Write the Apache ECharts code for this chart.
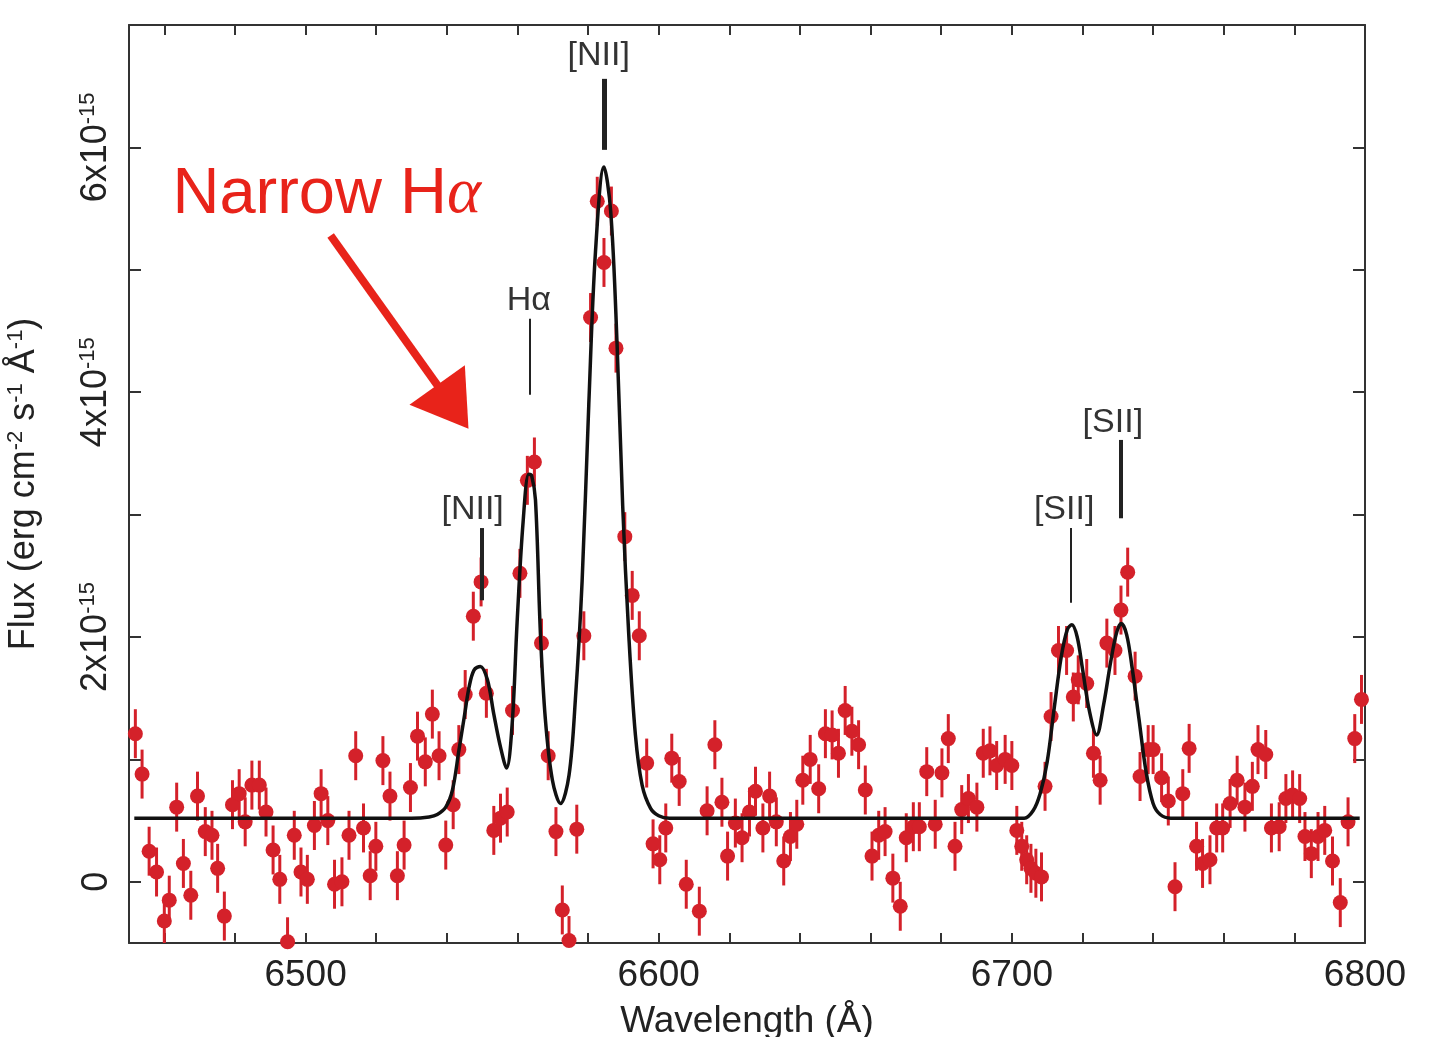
<!DOCTYPE html>
<html><head><meta charset="utf-8">
<script src="https://cdn.jsdelivr.net/npm/echarts@6/dist/echarts.min.js"></script>
<style>html,body{margin:0;padding:0;background:#fff}#c{width:1435px;height:1037px}</style>
</head><body><div id="c"></div>
<script>
// ---- data (flux in units of 1e-15 erg cm^-2 s^-1 A^-1) ----
const wavelength = [6451.8,6453.7,6455.7,6457.8,6460.0,6461.4,6463.5,6465.4,6467.5,6469.4,6471.6,6473.5,6475.1,6477.0,6479.3,6481.2,6482.9,6484.8,6486.9,6488.8,6490.8,6492.7,6494.9,6496.8,6498.7,6500.5,6502.5,6504.4,6506.3,6508.2,6510.3,6512.3,6514.2,6516.4,6518.3,6519.9,6521.9,6523.9,6526.0,6527.9,6529.7,6531.7,6533.9,6535.9,6537.8,6539.7,6541.8,6543.4,6545.2,6547.5,6549.7,6551.2,6553.3,6555.2,6557.1,6558.6,6560.7,6562.8,6564.8,6566.8,6568.7,6570.9,6572.7,6574.6,6576.8,6578.8,6580.7,6582.6,6584.5,6586.6,6587.9,6590.4,6592.5,6594.5,6596.6,6598.4,6600.3,6602.0,6603.7,6605.8,6607.8,6611.5,6613.7,6615.9,6617.9,6619.5,6621.7,6623.6,6625.7,6627.4,6629.5,6631.4,6633.3,6635.4,6637.3,6639.1,6640.8,6642.9,6645.3,6647.2,6649.1,6650.9,6652.8,6654.7,6656.6,6658.5,6660.4,6662.3,6664.1,6666.3,6668.4,6670.1,6672.1,6673.8,6675.9,6678.3,6680.2,6682.0,6683.9,6685.8,6687.7,6690.1,6691.9,6693.8,6695.7,6698.1,6700.0,6701.4,6702.8,6704.2,6705.4,6706.8,6708.4,6709.4,6711.1,6713.2,6715.5,6717.4,6718.8,6721.2,6723.1,6725.0,6726.9,6729.2,6730.9,6732.8,6734.9,6736.3,6738.6,6740.0,6742.4,6744.3,6746.2,6748.4,6750.2,6752.3,6754.0,6756.1,6758.0,6759.7,6761.8,6763.8,6766.0,6768.1,6769.7,6771.9,6773.5,6775.7,6777.6,6779.5,6781.5,6783.0,6784.8,6786.7,6788.6,6790.8,6793.0,6795.2,6797.1,6799.0];
const fluxE15 = [1.21,0.88,0.25,0.08,-0.32,-0.15,0.61,0.15,-0.11,0.70,0.41,0.38,0.11,-0.28,0.63,0.72,0.49,0.79,0.79,0.57,0.26,0.02,-0.49,0.38,0.08,0.02,0.46,0.72,0.50,-0.02,0.00,0.38,1.03,0.44,0.05,0.29,0.99,0.70,0.05,0.30,0.77,1.19,0.98,1.37,1.03,0.30,0.63,1.08,1.53,2.17,2.45,1.54,0.42,0.52,0.57,1.40,2.52,3.28,3.43,1.95,1.03,0.41,-0.23,-0.48,0.43,2.01,4.61,5.56,5.06,5.48,4.36,2.82,2.34,2.01,0.97,0.31,0.18,0.44,1.01,0.82,-0.02,-0.24,0.58,1.12,0.65,0.21,0.48,0.36,0.57,0.74,0.44,0.70,0.49,0.17,0.37,0.47,0.83,1.00,0.76,1.21,1.20,1.05,1.40,1.23,1.12,0.75,0.21,0.38,0.41,0.03,-0.20,0.36,0.45,0.45,0.90,0.47,0.89,1.17,0.29,0.59,0.68,0.61,1.05,1.07,0.95,1.00,0.95,0.42,0.29,0.18,0.11,0.07,0.04,0.78,1.35,1.89,1.89,1.51,1.65,1.62,1.05,0.83,1.95,1.89,2.22,2.53,1.68,0.86,1.08,1.08,0.85,0.66,-0.04,0.72,1.09,0.29,0.15,0.18,0.44,0.44,0.64,0.83,0.61,0.78,1.08,1.04,0.44,0.45,0.68,0.71,0.68,0.37,0.23,0.37,0.42,0.17,-0.17,0.49,1.17,1.49];
const fluxErrE15 = 0.2;
const modelWavelength = [6451.5,6530,6535,6537.3,6539.7,6541.6,6543.4,6544.9,6546.3,6547.7,6549.5,6551.5,6553.3,6555.2,6556.9,6558.5,6559.9,6561.6,6563.2,6564.0,6565.1,6566.5,6567.9,6569.9,6572.2,6574.6,6576.4,6578.3,6580.2,6582.1,6584.5,6586.4,6588.2,6589.8,6591.5,6593.4,6595.3,6597.7,6600.0,6603,6703.5,6706,6708,6710,6712,6714,6715.7,6717,6718.5,6720,6722,6724,6726,6728,6729.7,6731,6732.5,6734,6736,6738,6740,6742,6745,6798.5];
const modelFluxE15 = [0.52,0.52,0.53,0.55,0.61,0.75,1.07,1.34,1.59,1.73,1.76,1.65,1.37,1.10,0.93,1.29,2.12,2.94,3.33,3.32,3.12,2.03,1.33,0.83,0.64,0.87,1.49,2.45,3.90,5.15,5.84,5.48,4.40,3.07,2.03,1.20,0.79,0.60,0.54,0.52,0.52,0.58,0.72,0.98,1.42,1.84,2.06,2.10,2.00,1.74,1.39,1.20,1.45,1.80,2.04,2.11,2.02,1.76,1.33,0.90,0.64,0.55,0.52,0.52];
const xTickValues = [6460,6480,6500,6520,6540,6560,6580,6600,6620,6640,6660,6680,6700,6720,6740,6760,6780,6800];
const xLabelValues = [6500,6600,6700,6800];
const yTickValues = [0,1,2,3,4,5,6];
const yLabelValues = [0,2,4,6];
const lineIdNames = ['[NII]','Hα','[NII]','[SII]','[SII]'];
const lineIdWave = [6549.9,6563.4,6584.7,6716.8,6730.9];
const annotationText = 'Narrow H{a|α}';

// ---- layout / style ----
const RED = '#d4212a';
const FONT = '"Liberation Sans", Arial, Helvetica, sans-serif';
const lineIdLayout = [ // [tickBottom, tickTop, textY, textX, width]
  [2.30,2.89,3.04,6547.3,4],
  [3.98,4.60,4.75,6563.2,2],
  [5.98,6.56,6.75,6583.0,5],
  [2.28,2.89,3.04,6714.8,2],
  [2.97,3.61,3.75,6728.6,4]
];

const points = wavelength.map((w,i)=>[w, fluxE15[i]]);
const model = modelWavelength.map((w,i)=>[w, modelFluxE15[i]]);

const supRich = {s:{fontSize:22, verticalAlign:'top', fontFamily:FONT, color:'#222', padding:[0,0,16,0]}};

const chart = echarts.init(document.getElementById('c'), null, {renderer:'canvas'});
const axisLineStyle = {color:'#333', width:2};
const option = {
  animation:false,
  backgroundColor:'#fff',
  textStyle:{fontFamily:FONT},
  grid:{left:129, right:70, top:25, bottom:94, outerBoundsMode:'none'},
  xAxis:[{
    type:'value', min:6450, max:6800, position:'bottom',
    axisLine:{show:true, onZero:false, lineStyle:axisLineStyle},
    axisTick:{show:true, inside:true, length:10, lineStyle:{color:'#333', width:2}, customValues:xTickValues},
    axisLabel:{show:true, customValues:xLabelValues, fontSize:37, color:'#222', margin:14, fontFamily:FONT,
      formatter:v => String(v)},
    splitLine:{show:false},
    name:'Wavelength (Å)', nameLocation:'middle', nameGap:60,
    nameTextStyle:{fontSize:37, color:'#222', fontFamily:FONT}
  },{
    type:'value', min:6450, max:6800, position:'top',
    axisLine:{show:true, onZero:false, lineStyle:axisLineStyle},
    axisTick:{show:true, inside:true, length:10, lineStyle:{color:'#333', width:2}, customValues:xTickValues},
    axisLabel:{show:false}, splitLine:{show:false}
  }],
  yAxis:[{
    type:'value', min:-0.5, max:7, position:'left',
    axisLine:{show:true, onZero:false, lineStyle:axisLineStyle},
    axisTick:{show:true, inside:true, length:12, lineStyle:{color:'#333', width:2}, customValues:yTickValues},
    axisLabel:{show:true, customValues:yLabelValues, rotate:90, fontSize:36, color:'#222', margin:14,
      fontFamily:FONT, rich:supRich,
      formatter:v => v===0 ? '0' : (v + 'x10{s|-15}')},
    splitLine:{show:false},
    name:'Flux (erg cm{s|-2} s{s|-1} Å{s|-1})', nameLocation:'middle', nameGap:86, nameRotate:90,
    nameTextStyle:{fontSize:36, color:'#222', fontFamily:FONT, rich:supRich}
  },{
    type:'value', min:-0.5, max:7, position:'right',
    axisLine:{show:true, onZero:false, lineStyle:axisLineStyle},
    axisTick:{show:true, inside:true, length:12, lineStyle:{color:'#333', width:2}, customValues:yTickValues},
    axisLabel:{show:false}, splitLine:{show:false}
  }],
  series:[
    {
      type:'custom', name:'err', xAxisIndex:0, yAxisIndex:0, clip:true, silent:true,
      data:points,
      renderItem:(params, api) => {
        const x = api.value(0), y = api.value(1);
        const a = api.coord([x, y - fluxErrE15]);
        const b = api.coord([x, y + fluxErrE15]);
        return {type:'line', shape:{x1:a[0],y1:a[1],x2:b[0],y2:b[1]}, style:{stroke:RED, lineWidth:3}};
      },
      z:2
    },
    {
      type:'scatter', name:'data', data:points, symbol:'circle', symbolSize:15,
      itemStyle:{color:RED, opacity:1}, clip:true, silent:true, z:3
    },
    {
      type:'line', name:'model', data:model, showSymbol:false, symbol:'none', smooth:0.35,
      lineStyle:{color:'#111', width:3.5}, z:4, silent:true,
      markLine:{
        silent:true, symbol:['none','none'], label:{show:false}, z:5,
        data:[
          ...lineIdWave.map((w,i)=>[
            {coord:[w, lineIdLayout[i][0]], lineStyle:{color:'#222', width:lineIdLayout[i][4], type:'solid'}},
            {coord:[w, lineIdLayout[i][1]]}
          ]),
          [
            {coord:[6507.1, 5.28], symbol:'none', lineStyle:{color:'#e8231a', width:8, type:'solid'}},
            {coord:[6541.7, 3.88], symbol:'triangle', symbolSize:[68,54]}
          ]
        ]
      },
      markPoint:{
        silent:true, symbol:'circle', symbolSize:0, z:6,
        data:[
          ...lineIdNames.map((n,i)=>({
            coord:[lineIdLayout[i][3], lineIdLayout[i][2]],
            label:{show:true, position:'inside', formatter:n, fontSize:34, color:'#333', fontFamily:FONT}
          })),
          {
            coord:[6506.0, 5.61],
            label:{show:true, position:'inside', formatter:annotationText, fontSize:65, color:'#e8231a',
              fontFamily:FONT, rich:{a:{fontSize:65, fontStyle:'italic', fontFamily:'"Liberation Serif", serif', color:'#e8231a'}}}
          }
        ]
      }
    }
  ]
};
chart.setOption(option);
</script></body></html>
